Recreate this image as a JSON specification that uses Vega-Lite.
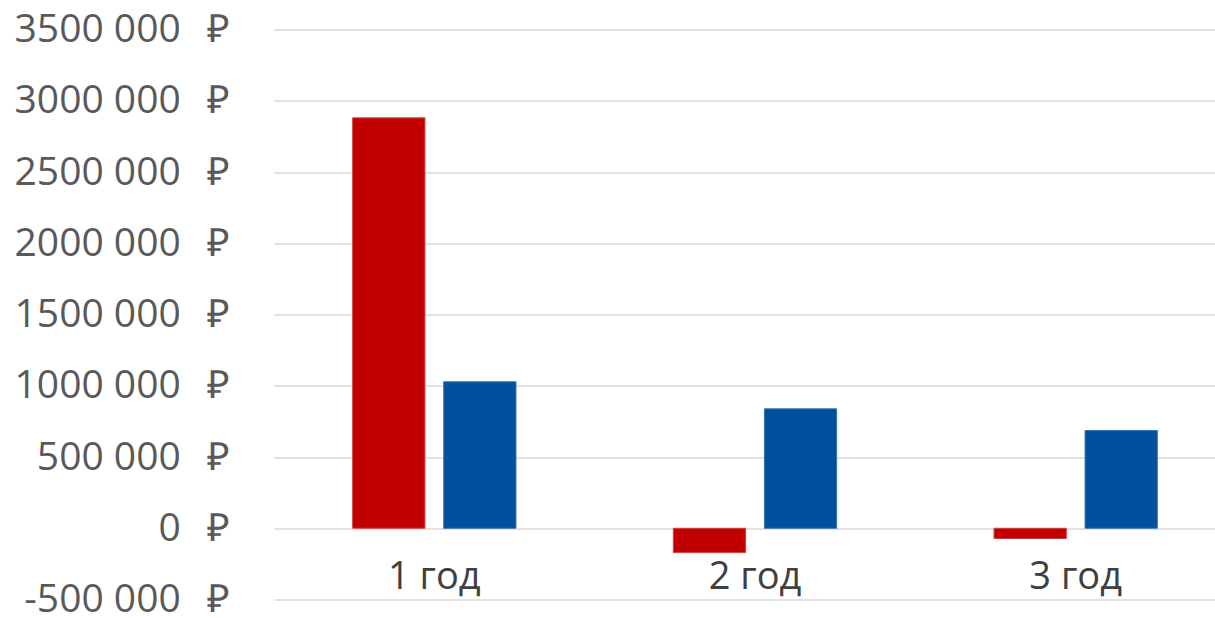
{
  "$schema": "https://vega.github.io/schema/vega-lite/v6.json",
  "autosize": "none",
  "width": 941,
  "height": 570,
  "padding": {"left": 274, "top": 29.5, "right": 0, "bottom": 18.5},
  "background": "white",
  "data": {
    "values": [
      {"year": "1 год", "series": "A", "value": 2880000},
      {"year": "1 год", "series": "B", "value": 1028000},
      {"year": "2 год", "series": "A", "value": -171000},
      {"year": "2 год", "series": "B", "value": 838000},
      {"year": "3 год", "series": "A", "value": -72000},
      {"year": "3 год", "series": "B", "value": 686000}
    ]
  },
  "mark": {"type": "bar", "strokeWidth": 1},
  "encoding": {
    "x": {
      "field": "year",
      "type": "nominal",
      "sort": null,
      "title": null,
      "scale": {"range": [0, 962], "paddingInner": 0.4907, "paddingOuter": 0.2453},
      "axis": {
        "labelAngle": 0,
        "ticks": false,
        "domain": false,
        "grid": false,
        "labelFont": "Open Sans",
        "labelFontSize": 38,
        "labelColor": "#404040",
        "labelBaseline": "middle",
        "labelPadding": -22,
        "labelLimit": 400
      }
    },
    "xOffset": {
      "field": "series",
      "type": "nominal",
      "scale": {"paddingInner": 0.206, "paddingOuter": 0}
    },
    "y": {
      "field": "value",
      "type": "quantitative",
      "title": null,
      "scale": {"domain": [-500000, 3500000], "nice": false, "zero": false},
      "axis": {
        "values": [-500000, 0, 500000, 1000000, 1500000, 2000000, 2500000, 3000000, 3500000],
        "labelExpr": "datum.value == 0 ? '0\u00a0\u00a0\u2009₽' : floor(datum.value / 1000) + '\u00a0000\u00a0\u00a0\u2009₽'",
        "ticks": false,
        "domain": false,
        "grid": true,
        "gridColor": "#D9D9D9",
        "gridWidth": 1.5,
        "labelFont": "Open Sans",
        "labelFontSize": 39,
        "labelColor": "#595959",
        "labelPadding": 44,
        "labelLimit": 400
      }
    },
    "color": {
      "field": "series",
      "type": "nominal",
      "legend": null,
      "scale": {"domain": ["A", "B"], "range": ["#C00000", "#00509E"]}
    },
    "stroke": {
      "field": "series",
      "type": "nominal",
      "legend": null,
      "scale": {"domain": ["A", "B"], "range": ["#D04040", "#3A74B0"]}
    }
  },
  "config": {"view": {"stroke": null}}
}
